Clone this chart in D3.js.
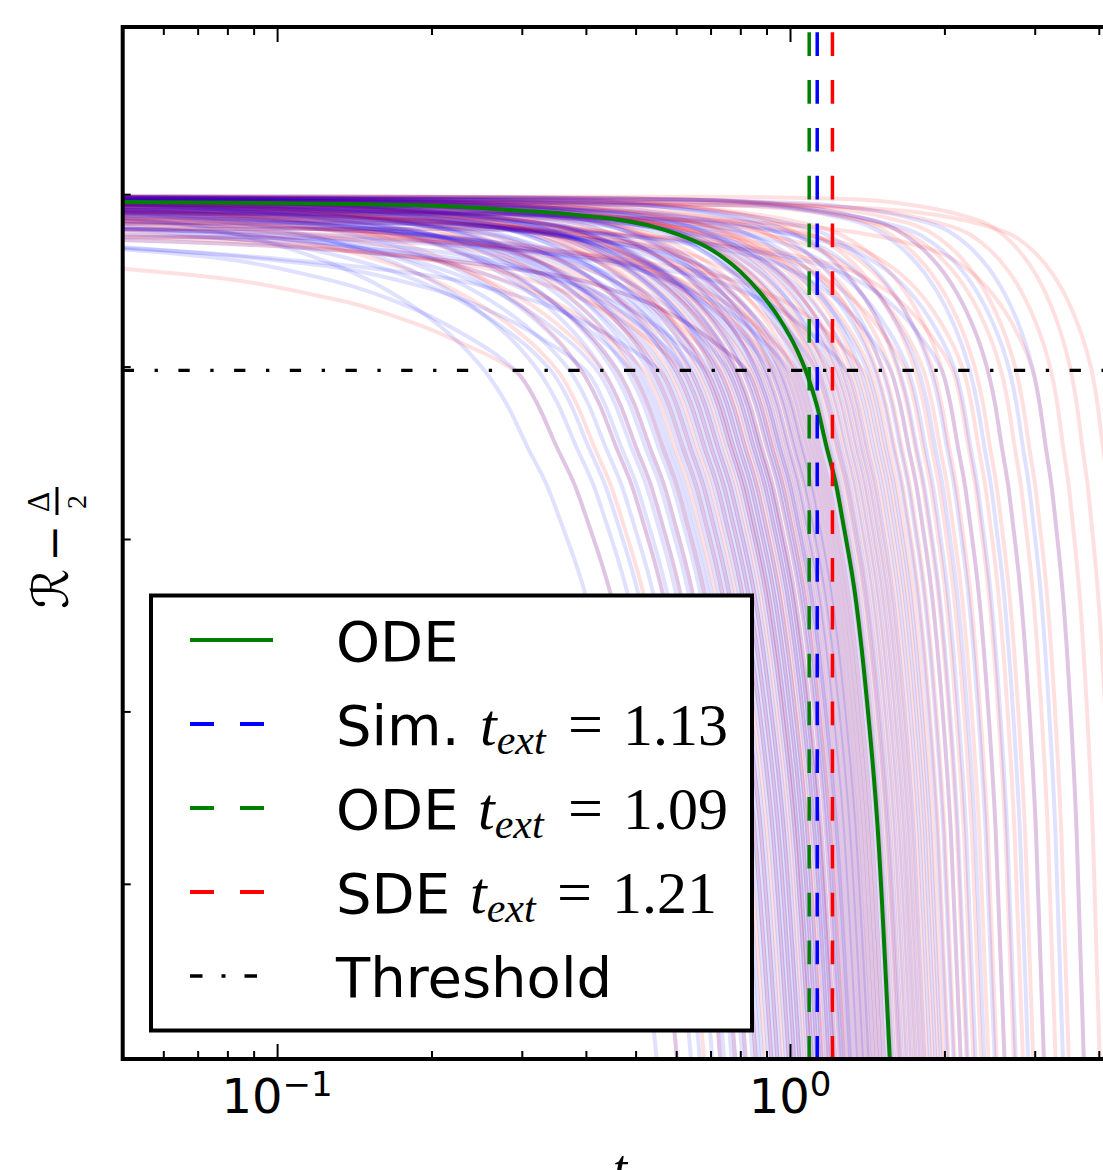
<!DOCTYPE html>
<html>
<head>
<meta charset="utf-8">
<script src="https://cdn.jsdelivr.net/npm/d3@7"></script>
<style>
  body { margin: 0; background: #fff; }
  text { font-family: "DejaVu Sans", sans-serif; fill: #000; }
  .math { font-family: "Liberation Serif", "DejaVu Serif", serif; }
</style>
</head>
<body>
<div id="chart"></div>
<script>
// ODE solution R - Delta/2
var odeT = [0.05, 0.19, 0.298, 0.373, 0.466, 0.541, 0.61, 0.677, 0.731, 0.799, 0.874, 0.956, 1.031, 1.084, 1.127, 1.179, 1.233, 1.267, 1.345, 1.413, 1.485, 1.567];
var odeV = [-0.046, -0.065, -0.096, -0.117, -0.150, -0.188, -0.237, -0.295, -0.355, -0.448, -0.570, -0.727, -0.902, -1.059, -1.220, -1.468, -1.700, -1.894, -2.36, -2.94, -3.71, -5.05];

// typical run shape, time relative to the run's own threshold crossing
var runTau = [0.046, 0.159, 0.25, 0.391, 0.529, 0.615, 0.673, 0.736, 0.805, 0.880, 0.949, 1.0, 1.038, 1.086, 1.135, 1.167, 1.238, 1.301, 1.367, 1.443];
var runV   = [-0.012, -0.025, -0.05, -0.11, -0.19, -0.28, -0.355, -0.448, -0.570, -0.727, -0.902, -1.065, -1.22, -1.468, -1.7, -1.894, -2.36, -2.94, -3.71, -5.05];
// extra drop of the lowest-lying runs before they fall
var runSagV = [-0.28, -0.33, -0.36, -0.38, -0.38, -0.36, -0.33, -0.3, -0.25, -0.18, -0.08, 0, 0, 0, 0, 0, 0, 0, 0, 0];
var runSag  = [0, 0.13, 0.04, 0.37, 0.09, 0.22, 0.01, 0.55, 0.07, 0.29, 0.02, 0.85, 0.11, 0.18, 0.05, 0.46, 0.15, 0.03, 0.26, 0.68, 0.08, 0.33, 0.12];

// threshold crossing time of every simulated run (blue) and SDE run (red)
var simCross = [0.26, 0.30, 0.33, 0.35, 0.38, 0.40, 0.41, 0.43, 0.44, 0.46, 0.47, 0.49, 0.50, 0.51, 0.52, 0.54, 0.55, 0.56, 0.57, 0.58,
                0.60, 0.61, 0.62, 0.63, 0.64, 0.65, 0.66, 0.68, 0.69, 0.70, 0.71, 0.72, 0.73, 0.74, 0.76, 0.77, 0.78, 0.79, 0.80, 0.82,
                0.83, 0.84, 0.86, 0.87, 0.88, 0.90, 0.91, 0.93, 0.94, 0.96, 0.97, 0.99, 1.01, 1.03, 1.05, 1.07, 1.09, 1.11, 1.14, 1.16,
                1.19, 1.22, 1.25, 1.28, 1.31, 1.35, 1.39, 1.43, 1.48, 1.53, 1.59, 1.65, 1.72, 1.80, 1.90, 2.00, 2.12, 2.26, 2.45, 2.70, 3.00];
var sdeCross = [0.30, 0.36, 0.40, 0.44, 0.47, 0.50, 0.53, 0.55, 0.57, 0.59, 0.61, 0.63, 0.65, 0.67, 0.69, 0.70, 0.72, 0.74, 0.75, 0.77,
                0.79, 0.80, 0.82, 0.84, 0.85, 0.87, 0.89, 0.91, 0.93, 0.95, 0.97, 0.99, 1.01, 1.03, 1.05, 1.08, 1.10, 1.13, 1.15, 1.18,
                1.21, 1.24, 1.27, 1.30, 1.33, 1.37, 1.41, 1.45, 1.49, 1.54, 1.59, 1.64, 1.70, 1.77, 1.84, 1.92, 2.00, 2.10, 2.20, 2.32,
                2.45, 2.60, 2.78, 3.00, 3.25, 3.55, 3.90];

var extTimes  = [1.13, 1.09, 1.21];
var extColors = ["#0000ff", "#008000", "#ff0000"];
var extLabels = ["Sim.", "ODE", "SDE"];
var extText   = ["1.13", "1.09", "1.21"];
var threshold = -1.022;

var tickMajor = [0.1, 1];
var tickMajorExp = ["\u22121", "0"];
var tickMinor = [0.06, 0.07, 0.08, 0.09, 0.2, 0.3, 0.4, 0.5, 0.6, 0.7, 0.8, 0.9, 2, 3, 4];
var yTicks = [0, -1, -2, -3, -4];

var width = 1103, height = 1170;
var plot = {left: 122.7, right: 1148.5, top: 27, bottom: 1059};

var svg = d3.select("#chart").append("svg")
    .attr("width", width)
    .attr("height", height);

var x = d3.scaleLog().domain([0.05, 5]).range([plot.left, plot.right]);
var y = d3.scaleLinear().domain([-5.016, 0.9695]).range([plot.bottom, plot.top]);

svg.append("clipPath").attr("id", "clip")
  .append("rect")
    .attr("x", plot.left).attr("y", plot.top)
    .attr("width", plot.right - plot.left)
    .attr("height", plot.bottom - plot.top);

var line = d3.line()
    .x(function(d) { return x(d[0]); })
    .y(function(d) { return y(d[1]); })
    .curve(d3.curveMonotoneX);

// early runs fall over a wider span of log t, late runs over a narrower one
function runPoints(T, s) {
  var k = Math.sqrt(1.09 / T);
  var pts = runTau.map(function(tau, i) {
    return [T * Math.pow(tau, k), runV[i] + s * runSagV[i]];
  });
  if (pts[0][0] > 0.05) pts.unshift([0.05, pts[0][1]]);
  return pts;
}

// alternate blue and red so neither colour sits fully on top
var runs = [];
for (var i = 0; i < Math.max(simCross.length, sdeCross.length); i++) {
  if (i < simCross.length) runs.push({T: simCross[i], s: runSag[(7 * i) % runSag.length], color: "#0000ff"});
  if (i < sdeCross.length) runs.push({T: sdeCross[i], s: runSag[(7 * i + 11) % runSag.length], color: "#ff0000"});
}

var g = svg.append("g").attr("clip-path", "url(#clip)");

g.selectAll(".run")
    .data(runs)
  .enter().append("path")
    .attr("class", "run")
    .attr("d", function(d) { return line(runPoints(d.T, d.s)); })
    .attr("fill", "none")
    .attr("stroke", function(d) { return d.color; })
    .attr("stroke-opacity", 0.12)
    .attr("stroke-width", 4);

// ODE curve
g.append("path")
    .attr("d", line(odeT.map(function(t, i) { return [t, odeV[i]]; })))
    .attr("fill", "none")
    .attr("stroke", "#008000")
    .attr("stroke-width", 4);

// extinction times
g.selectAll(".ext")
    .data(extTimes)
  .enter().append("line")
    .attr("class", "ext")
    .attr("x1", function(d) { return x(d); })
    .attr("x2", function(d) { return x(d); })
    .attr("y1", plot.top)
    .attr("y2", plot.bottom)
    .attr("stroke", function(d, i) { return extColors[i]; })
    .attr("stroke-width", 3.5)
    .attr("stroke-dasharray", "23.7,24.1")
    .attr("stroke-dashoffset", 42.5);

// threshold
g.append("line")
    .attr("x1", plot.left).attr("x2", plot.right)
    .attr("y1", y(threshold)).attr("y2", y(threshold))
    .attr("stroke", "#000")
    .attr("stroke-width", 3.3)
    .attr("stroke-dasharray", "11.3,20.6,3.3,20.5");

// axes (ticks inward, no domain line)
function styleAxis(sel) {
  sel.select(".domain").remove();
  sel.selectAll("line").attr("stroke", "#000").attr("stroke-width", 2);
  sel.selectAll("text").remove();
}
svg.append("g").attr("transform", "translate(0," + plot.bottom + ")")
    .call(d3.axisBottom(x).tickValues(tickMajor).tickSize(-15).tickFormat("")).call(styleAxis);
svg.append("g").attr("transform", "translate(0," + plot.bottom + ")")
    .call(d3.axisBottom(x).tickValues(tickMinor).tickSize(-8).tickFormat("")).call(styleAxis);
svg.append("g").attr("transform", "translate(0," + plot.top + ")")
    .call(d3.axisTop(x).tickValues(tickMajor).tickSize(-15).tickFormat("")).call(styleAxis);
svg.append("g").attr("transform", "translate(0," + plot.top + ")")
    .call(d3.axisTop(x).tickValues(tickMinor).tickSize(-8).tickFormat("")).call(styleAxis);
svg.append("g").attr("transform", "translate(" + plot.left + ",0)")
    .call(d3.axisLeft(y).tickValues(yTicks).tickSize(-8).tickFormat("")).call(styleAxis);
svg.append("g").attr("transform", "translate(" + plot.right + ",0)")
    .call(d3.axisRight(y).tickValues(yTicks).tickSize(-8).tickFormat("")).call(styleAxis);

svg.append("rect")
    .attr("x", plot.left).attr("y", plot.top)
    .attr("width", plot.right - plot.left)
    .attr("height", plot.bottom - plot.top)
    .attr("fill", "none")
    .attr("stroke", "#000")
    .attr("stroke-width", 4);

// tick labels 10^n
tickMajor.forEach(function(v, i) {
  var t = svg.append("text")
      .attr("x", x(v))
      .attr("y", 1113)
      .attr("text-anchor", "middle")
      .attr("font-size", 48);
  t.append("tspan").text("10");
  t.append("tspan").attr("dy", -17).attr("font-size", 34).text(tickMajorExp[i]);
});

// x label (bottom half falls outside the picture, as in the original)
svg.append("text")
    .attr("class", "math")
    .attr("x", 620).attr("y", 1186)
    .attr("text-anchor", "middle")
    .attr("font-size", 52)
    .attr("font-style", "italic")
    .text("t");

// y label  R - Delta/2
var yl = svg.append("g").attr("transform", "translate(57,547) rotate(-90)");
yl.append("text").attr("x", -62).attr("y", 11)
    .attr("font-family", "DejaVu Serif").attr("font-size", 50).text("\u211B");
yl.append("text").attr("x", 4).attr("y", 12).attr("text-anchor", "middle")
    .attr("font-family", "DejaVu Serif").attr("font-size", 44).text("\u2212");
yl.append("line").attr("x1", 32).attr("x2", 60).attr("y1", 0).attr("y2", 0)
    .attr("stroke", "#000").attr("stroke-width", 3);
yl.append("text").attr("class", "math").attr("x", 45).attr("y", -8).attr("text-anchor", "middle")
    .attr("font-size", 32).text("\u0394");
yl.append("text").attr("class", "math").attr("x", 45).attr("y", 29).attr("text-anchor", "middle")
    .attr("font-size", 28).text("2");

// legend
var legend = svg.append("g");
legend.append("rect")
    .attr("x", 151).attr("y", 595.5)
    .attr("width", 601).attr("height", 435)
    .attr("fill", "#fff")
    .attr("stroke", "#000")
    .attr("stroke-width", 4);

var rowY = [640, 724, 808, 892, 976];
var mathT = [480, 478, 470];
var mathEq = [568, 568, 557];
var mathNum = [623, 623, 612];

legend.append("line")
    .attr("x1", 190).attr("x2", 273).attr("y1", rowY[0]).attr("y2", rowY[0])
    .attr("stroke", "#008000").attr("stroke-width", 4);
legend.append("text").attr("x", 336).attr("y", rowY[0] + 21).attr("font-size", 56).text("ODE");

extLabels.forEach(function(lab, i) {
  var ry = rowY[i + 1];
  legend.append("line")
      .attr("x1", 190).attr("x2", 264).attr("y1", ry).attr("y2", ry)
      .attr("stroke", extColors[i]).attr("stroke-width", 4)
      .attr("stroke-dasharray", "24,26");
  var t = legend.append("text").attr("x", 336).attr("y", ry + 21).attr("font-size", 56);
  t.append("tspan").text(lab);
  t.append("tspan").attr("class", "math").attr("x", mathT[i]).attr("font-size", 60)
      .attr("font-style", "italic").text("t");
  t.append("tspan").attr("class", "math").attr("dy", 9).attr("font-size", 42)
      .attr("font-style", "italic").text("ext");
  t.append("tspan").attr("class", "math").attr("x", mathEq[i]).attr("dy", -9)
      .attr("font-size", 62).text("=");
  t.append("tspan").attr("class", "math").attr("x", mathNum[i]).attr("font-size", 60)
      .text(extText[i]);
});

legend.append("line")
    .attr("x1", 190).attr("x2", 262).attr("y1", rowY[4]).attr("y2", rowY[4])
    .attr("stroke", "#000").attr("stroke-width", 3.5)
    .attr("stroke-dasharray", "12.5,19,4,19");
legend.append("text").attr("x", 336).attr("y", rowY[4] + 21).attr("font-size", 56).text("Threshold");
</script>
</body>
</html>
